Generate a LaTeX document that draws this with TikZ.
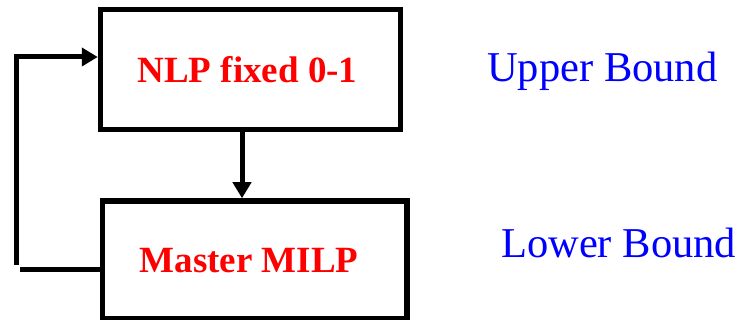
\documentclass[tikz,border=0pt]{standalone}
\usepackage{fontspec}
\setmainfont{Liberation Serif}
\usetikzlibrary{arrows.meta}
\definecolor{boxtext}{RGB}{255,0,0}
\definecolor{boundtext}{RGB}{0,0,255}
\tikzset{
  stagebox/.style={draw=black, line width=5.5pt, fill=white, inner sep=0pt},
  stagetext/.style={text=boxtext, inner sep=0pt,
    font=\fontsize{37}{40}\selectfont\bfseries},
  flow/.style={draw=black, line width=5pt},
  flowarrow/.style={flow, -{Triangle[width=18pt 0 0,length=16pt 0 0]}},
  boundlabel/.style={text=boundtext, inner sep=0pt, anchor=base west,
    font=\fontsize{42.5}{46}\selectfont},
}
\begin{document}
\begin{tikzpicture}[x=1pt, y=-1pt]
  \useasboundingbox (0,0) rectangle (739,320);

  % the two stages of the decomposition
  \node[stagebox, minimum width=300pt, minimum height=120pt] (nlp) at (250.5,69.5) {};
  \node[stagebox, minimum width=304.5pt, minimum height=118pt] (milp) at (254.75,260) {};
  \node[stagetext] (nlptext) at (247.5,69.5) {NLP fixed 0-1};
  \node[stagetext] (milptext) at (249,260.5) {Master MILP};

  % bound labels
  \node[boundlabel] (ub) at (487,82) {Upper Bound};
  \node[boundlabel] (lb) at (501,258) {Lower Bound};

  % NLP result feeds the master problem
  \coordinate (dx) at (242,0);
  \draw[flowarrow] (nlp.south -| dx) -- (milp.north -| dx);

  % master solution loops back to the NLP
  \coordinate (fbbot) at (17,269.5);
  \coordinate (fbcorner) at (16,57);
  \coordinate (fbfoot) at (16,265);
  \draw[flow, shorten >=2.5pt] (milp.west |- fbbot) coordinate (fbstart) -- (fbbot);
  \draw[flowarrow, line join=miter] (fbfoot) -- (fbcorner) -- (nlp.west |- fbcorner);
\end{tikzpicture}
\end{document}
